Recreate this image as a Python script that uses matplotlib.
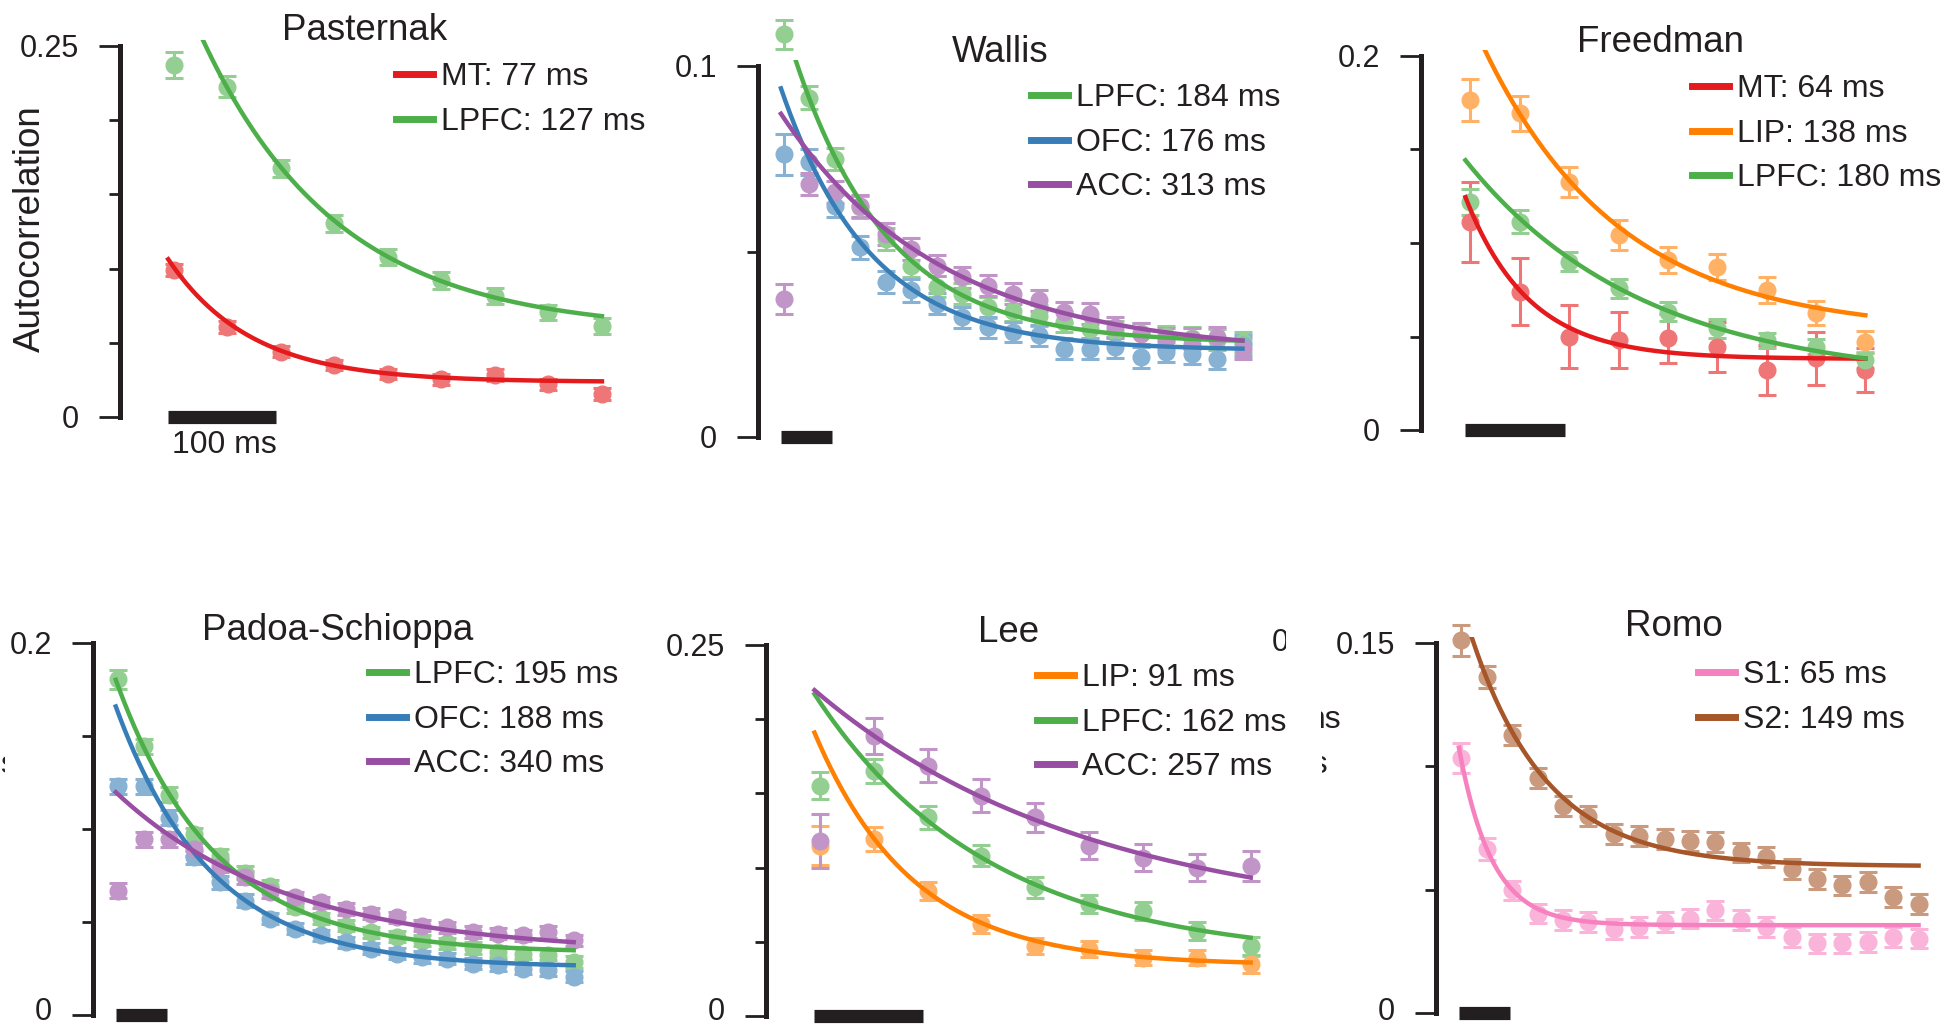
import numpy as np
import matplotlib
matplotlib.use("Agg")
import matplotlib.pyplot as plt
from matplotlib.colors import to_rgb
from matplotlib.transforms import Bbox, TransformedBbox

plt.rcParams["font.family"] = ["Liberation Sans", "DejaVu Sans"]
INK = "#231f20"

# ---------------------------------------------------------------- data
# time lags (ms) of the autocorrelation points
LAGS_9 = [50, 100, 150, 200, 250, 300, 350, 400, 450]
LAGS_19 = [50, 100, 150, 200, 250, 300, 350, 400, 450, 500,
           550, 600, 650, 700, 750, 800, 850, 900, 950]

AREA_COLORS = {"MT": "#e41a1c", "LIP": "#ff7f00", "LPFC": "#4daf4a",
               "OFC": "#377eb8", "ACC": "#984ea3", "S1": "#f781bf",
               "S2": "#a65628"}

# Pasternak
pasternak_mt = [0.0988, 0.0609, 0.044, 0.035, 0.029, 0.0254, 0.0284, 0.022, 0.0157]
pasternak_mt_err = [0.004, 0.004, 0.0038, 0.0035, 0.0035, 0.0035, 0.004, 0.0035, 0.004]
pasternak_lpfc = [0.237, 0.2225, 0.1675, 0.1305, 0.108, 0.092, 0.0815, 0.0705, 0.0615]
pasternak_lpfc_err = [0.0088, 0.007, 0.006, 0.0058, 0.0055, 0.0055, 0.0055, 0.005, 0.0055]

# Wallis
wallis_lpfc = [0.1085, 0.0915, 0.0749, 0.062, 0.0534, 0.0462, 0.0405, 0.0386, 0.035,
               0.034, 0.0327, 0.031, 0.0292, 0.0285, 0.028, 0.0272, 0.0268, 0.0262, 0.0255]
wallis_lpfc_err = [0.004, 0.003, 0.003, 0.003, 0.003, 0.003, 0.0028, 0.0028, 0.0028,
                   0.0028, 0.0028, 0.0028, 0.0028, 0.0028, 0.0028, 0.0028, 0.0028, 0.0028, 0.0028]
wallis_ofc = [0.0762, 0.074, 0.0623, 0.0511, 0.0417, 0.0395, 0.0359, 0.0323, 0.0296,
              0.0283, 0.0274, 0.0238, 0.0238, 0.0242, 0.0215, 0.0229, 0.0224, 0.0211, 0.0247]
wallis_ofc_err = [0.0056, 0.0035, 0.003, 0.003, 0.003, 0.003, 0.0028, 0.0028, 0.0028,
                  0.0028, 0.0028, 0.0028, 0.0028, 0.0028, 0.0028, 0.0028, 0.0028, 0.0028, 0.0028]
wallis_acc = [0.0372, 0.0682, 0.066, 0.0623, 0.0547, 0.0507, 0.0462, 0.043, 0.0408,
              0.0386, 0.0368, 0.0336, 0.0332, 0.0296, 0.0278, 0.0265, 0.0265, 0.0269, 0.0238]
wallis_acc_err = [0.004, 0.003, 0.003, 0.003, 0.003, 0.003, 0.0028, 0.0028, 0.0028,
                  0.0028, 0.0028, 0.0028, 0.0028, 0.0028, 0.0028, 0.0028, 0.0028, 0.0028, 0.0028]

# Freedman
freedman_mt = [0.1114, 0.074, 0.0499, 0.0481, 0.049, 0.0446, 0.0321, 0.0383, 0.0321]
freedman_mt_err = [0.0214, 0.018, 0.017, 0.015, 0.013, 0.0134, 0.0134, 0.014, 0.012]
freedman_lip = [0.1765, 0.1693, 0.1328, 0.1043, 0.0909, 0.0873, 0.0749, 0.0624, 0.0472]
freedman_lip_err = [0.011, 0.0095, 0.008, 0.008, 0.007, 0.007, 0.007, 0.0065, 0.0055]
freedman_lpfc = [0.1221, 0.1114, 0.09, 0.0758, 0.0633, 0.0544, 0.0481, 0.0446, 0.0374]
freedman_lpfc_err = [0.007, 0.006, 0.005, 0.005, 0.005, 0.005, 0.004, 0.004, 0.004]

# Padoa-Schioppa
padoa_lpfc = [0.1804, 0.1444, 0.1185, 0.0971, 0.0856, 0.0766, 0.0695, 0.058, 0.052,
              0.048, 0.0445, 0.042, 0.04, 0.0385, 0.036, 0.034, 0.033, 0.0325, 0.0285]
padoa_lpfc_err = [0.005, 0.004, 0.004, 0.0035, 0.0035, 0.0035, 0.003, 0.003, 0.003,
                  0.003, 0.003, 0.003, 0.003, 0.003, 0.003, 0.003, 0.003, 0.003, 0.003]
padoa_ofc = [0.123, 0.123, 0.106, 0.0847, 0.0713, 0.0615, 0.0517, 0.0463, 0.0428,
             0.0392, 0.0357, 0.033, 0.0312, 0.0303, 0.0276, 0.0267, 0.025, 0.0241, 0.0205]
padoa_ofc_err = [0.004, 0.004, 0.004, 0.0035, 0.0035, 0.0035, 0.003, 0.003, 0.003,
                 0.003, 0.003, 0.003, 0.003, 0.003, 0.003, 0.003, 0.003, 0.003, 0.003]
padoa_acc = [0.0668, 0.0945, 0.0945, 0.0891, 0.0802, 0.074, 0.066, 0.0633, 0.0606,
             0.057, 0.0544, 0.0526, 0.0481, 0.0472, 0.0446, 0.0437, 0.0428, 0.0446, 0.0401]
padoa_acc_err = [0.004, 0.004, 0.004, 0.0035, 0.0035, 0.0035, 0.003, 0.003, 0.003,
                 0.003, 0.003, 0.003, 0.003, 0.003, 0.003, 0.003, 0.003, 0.003, 0.003]

# Lee
lee_lip = [0.1147, 0.1192, 0.0843, 0.0618, 0.0472, 0.045, 0.0393, 0.0393, 0.0348]
lee_lip_err = [0.013, 0.008, 0.006, 0.006, 0.0055, 0.0055, 0.005, 0.005, 0.0055]
lee_lpfc = [0.1551, 0.1652, 0.1338, 0.1079, 0.0866, 0.0753, 0.0708, 0.0573, 0.0472]
lee_lpfc_err = [0.009, 0.008, 0.008, 0.007, 0.007, 0.006, 0.006, 0.006, 0.006]
lee_acc = [0.118, 0.1888, 0.1686, 0.1484, 0.1338, 0.1147, 0.1068, 0.1, 0.1012]
lee_acc_err = [0.018, 0.012, 0.011, 0.011, 0.01, 0.009, 0.009, 0.009, 0.01]

# Romo
romo_s1 = [0.1034, 0.0665, 0.0497, 0.0403, 0.0376, 0.0369, 0.0342, 0.0349, 0.0369,
           0.0383, 0.0416, 0.0376, 0.0349, 0.0309, 0.0282, 0.0282, 0.0289, 0.0309, 0.0302]
romo_s1_err = [0.006, 0.0045, 0.004, 0.004, 0.004, 0.004, 0.004, 0.004, 0.004,
               0.004, 0.004, 0.004, 0.004, 0.004, 0.004, 0.004, 0.004, 0.004, 0.004]
romo_s2 = [0.1511, 0.1363, 0.1128, 0.0953, 0.0839, 0.0799, 0.0725, 0.0718, 0.0705,
           0.0698, 0.0692, 0.0651, 0.0631, 0.0584, 0.0544, 0.0517, 0.053, 0.047, 0.0443]
romo_s2_err = [0.0062, 0.0045, 0.004, 0.004, 0.004, 0.004, 0.004, 0.004, 0.004,
               0.004, 0.004, 0.004, 0.004, 0.004, 0.004, 0.004, 0.004, 0.004, 0.004]

# exponential fits: (area, points, errors, tau [ms], amplitude at first lag, offset)
PANELS = [
    dict(title="Pasternak", lags=LAGS_9, top=0.25, top_label="0.25",
         series=[("MT", pasternak_mt, pasternak_mt_err, 77, 0.0775, 0.0236),
                 ("LPFC", pasternak_lpfc, pasternak_lpfc_err, 127, 0.2439, 0.0575)]),
    dict(title="Wallis", lags=LAGS_19, top=0.1, top_label="0.1",
         series=[("LPFC", wallis_lpfc, wallis_lpfc_err, 184, 0.0868, 0.0253),
                 ("OFC", wallis_ofc, wallis_ofc_err, 176, 0.0686, 0.0234),
                 ("ACC", wallis_acc, wallis_acc_err, 313, 0.0637, 0.0224)]),
    dict(title="Freedman", lags=LAGS_9, top=0.2, top_label="0.2",
         series=[("MT", freedman_mt, freedman_mt_err, 64, 0.080, 0.038),
                 ("LIP", freedman_lip, freedman_lip_err, 138, 0.168, 0.0521),
                 ("LPFC", freedman_lpfc, freedman_lpfc_err, 180, 0.1152, 0.0258)]),
    dict(title="Padoa-Schioppa", lags=LAGS_19, top=0.2, top_label="0.2",
         series=[("LPFC", padoa_lpfc, padoa_lpfc_err, 195, 0.1431, 0.0334),
                 ("OFC", padoa_ofc, padoa_ofc_err, 188, 0.1366, 0.0256),
                 ("ACC", padoa_acc, padoa_acc_err, 340, 0.0854, 0.0331)]),
    dict(title="Lee", lags=LAGS_9, top=0.25, top_label="0.25",
         series=[("LIP", lee_lip, lee_lip_err, 91, 0.1484, 0.0342),
                 ("LPFC", lee_lpfc, lee_lpfc_err, 162, 0.1734, 0.0381),
                 ("ACC", lee_acc, lee_acc_err, 257, 0.1561, 0.0604)]),
    dict(title="Romo", lags=LAGS_19, top=0.15, top_label="0.15",
         series=[("S1", romo_s1, romo_s1_err, 65, 0.0667, 0.0356),
                 ("S2", romo_s2, romo_s2_err, 149, 0.1064, 0.0595)]),
]

# ---------------------------------------------------------------- layout (pixels)
W, H = 1941, 1027
# spine x, y of zero, y of top tick, px per ms, x-range (ms), legend left, legend first-row y, title x, title y
LAYOUT = [
    (120, 417, 46, 1.071, 470, 396, 75, 365, 30),
    (758, 437, 66, 0.510, 980, 1031, 96, 1000, 52),
    (1421, 430, 56, 0.9875, 480, 1692, 87, 1661, 42),
    (93, 1015, 643, 0.506, 980, 369, 673, 338, 630),
    (766, 1016, 645, 1.077, 470, 1037, 676, 1009, 632),
    (1436, 1013, 643, 0.508, 960, 1698, 673, 1674, 627),
]
YPAD = 1.015
TICK_FS = 22
TICK_GAP = 41           # px from spine to right edge of tick label
LOWEST_BASELINE = 1020  # keep the bottom labels inside the canvas

fig = plt.figure(figsize=(W / 100, H / 100), dpi=100)


def light(c, f=0.6):
    r, g, b = to_rgb(c)
    return (f * r + (1 - f), f * g + (1 - f), f * b + (1 - f))


def fx(px):
    return px / W


def fy(py):
    return 1 - py / H


for panel, (sx, y0, yt, ppm, tmax, lx, ly, tx, ty) in zip(PANELS, LAYOUT):
    top = panel["top"]
    ymax = top * YPAD
    h = (y0 - yt) * YPAD
    ax = fig.add_axes([fx(sx), (H - y0) / H, (ppm * tmax) / W, h / H])
    ax.set_xlim(0, tmax)
    ax.set_ylim(0, ymax)
    ax.patch.set_visible(False)
    lags = panel["lags"]

    for area, vals, errs, tau, amp, off in panel["series"]:
        c = light(AREA_COLORS[area])
        cont = ax.errorbar(lags, vals, yerr=errs, fmt="o", color=c, ms=12, mec=c,
                           elinewidth=2.2, capsize=6.2, capthick=2.2, zorder=2)
        for art in cont.get_children():
            art.set_clip_on(False)

    for area, vals, errs, tau, amp, off in panel["series"]:
        t = np.linspace(45, lags[-1], 400)
        ax.plot(t, off + amp * np.exp(-(t - lags[0]) / tau), color=AREA_COLORS[area],
                lw=3.2, zorder=3, label=f"{area}: {tau} ms")

    # 100 ms scale bar
    ax.plot([45, 146], [0, 0], color=INK, lw=9.5, solid_capstyle="butt",
            clip_on=False, zorder=4)

    for side in ("top", "right", "bottom"):
        ax.spines[side].set_visible(False)
    ax.spines["left"].set_linewidth(3.6)
    ax.spines["left"].set_color(INK)
    ax.spines["left"].set_bounds(0, top)
    ax.set_xticks([])
    ax.set_yticks([0, top])
    ax.set_yticklabels([])
    ax.set_yticks(np.arange(0.05, top - 1e-9, 0.05), minor=True)
    ax.tick_params(axis="y", which="major", length=15, width=2, color=INK)
    ax.tick_params(axis="y", which="minor", length=8, width=2, color=INK)

    # tick labels, placed by baseline
    for label, ypix in (("0", y0), (panel["top_label"], yt)):
        base = min(ypix + 11, LOWEST_BASELINE)
        fig.text(fx(sx - TICK_GAP), fy(base), label, ha="right", va="baseline",
                 fontsize=TICK_FS, color=INK)

    leg = ax.legend(loc="upper left", bbox_to_anchor=(fx(lx), fy(ly - 13)),
                    bbox_transform=fig.transFigure, frameon=False, fontsize=23,
                    handlelength=1.16, handletextpad=0.24, labelspacing=0.46,
                    borderpad=0, borderaxespad=0)
    for ln in leg.get_lines():
        ln.set_linewidth(5)
    for txt in leg.get_texts():
        txt.set_color(INK)

    fig.text(fx(tx), fy(ty), panel["title"], ha="center", va="center",
             fontsize=26.5, color=INK)

fig.text(fx(30), fy(229), "Autocorrelation", rotation=90, ha="center",
         va="center", fontsize=26.5, color=INK)
fig.text(fx(224), fy(445), "100 ms", ha="center", va="center", fontsize=23, color=INK)


# partly hidden text pieces from neighbouring material
def clipped_text(x, y, s, ha, x0, x1, size):
    t = fig.text(fx(x), fy(y), s, ha=ha, va="center", fontsize=size, color=INK)
    t.set_clip_box(TransformedBbox(Bbox.from_extents(fx(x0), 0, fx(x1), 1),
                                   fig.transFigure))
    t.set_clip_on(True)


clipped_text(1272, 643, "0", "left", 0, 1286, 22)
clipped_text(1341, 720, "ms", "right", 1321, W, 23)
clipped_text(1328, 765, "ms", "right", 1322, W, 23)
clipped_text(0, 765, "s", "left", 0, 5, 23)

fig.savefig("out.png", dpi=100)
